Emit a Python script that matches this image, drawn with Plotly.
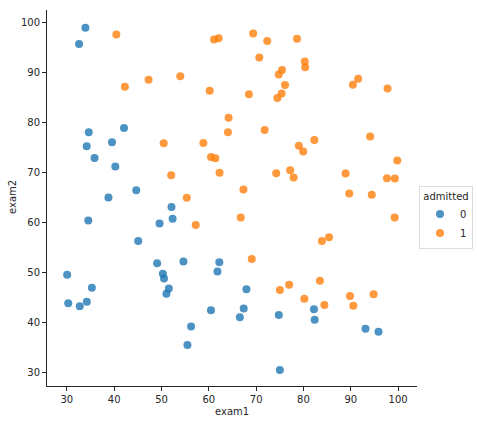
import plotly.graph_objects as go

exam1 = [34.62365962451697,30.28671076822607,35.84740876993872,60.18259938620976,79.03273605381088,45.08327747668339,61.10666453684766,75.02474556738889,76.09878670226257,84.43281996120035,95.86155507093572,75.01365838958247,82.30705337399482,69.36458875970939,39.53833914367223,53.9710521485623,69.07014406283025,67.94685547711617,70.66150955499435,76.97878372747498,67.37202754570876,89.67677575072079,50.534788289883,34.21206097786789,77.9240914545704,62.27101367004632,80.1901807509566,93.114388797442,61.83020602312595,38.78580379679423,61.379289447425,85.40451939411645,52.10797973193984,52.04540476831827,40.23689373545111,54.63510555424817,33.91550010906887,64.17698887494485,74.78925295941542,34.1836400264419,83.90239366249155,51.54772026906181,94.44336776917852,82.36875375713919,51.04775177128865,62.22267576120188,77.19303492601364,97.77159928000232,62.07306379667647,91.56497449807442,79.94481794066932,99.2725269292572,90.54671411399852,34.52451385320009,50.2864961189907,49.58667721632031,97.64563396007767,32.57720016809309,74.24869136721598,71.79646205863379,75.3956114656803,35.28611281526193,56.25381749711624,30.05882244669796,44.66826172480893,66.56089447242954,40.45755098375164,49.07256321908844,80.27957401466998,66.74671856944039,32.72283304060323,64.0393204150601,72.34649422579923,60.45788573918959,58.84095621726802,99.82785779692128,47.26426910848174,50.45815980285988,60.45555629271532,82.22666157785568,88.9138964166533,94.83450672430196,67.31925746917527,57.23870631569862,80.36675600171273,68.46852178591112,42.0754545384731,75.47770200533905,78.63542434898018,52.34800398794107,94.09433112516793,90.44855097096364,55.48216114069585,74.49269241843041,89.84580670720979,83.48916274498238,42.2617008099817,99.31500880510394,55.34001756003703,74.77589300092767]
exam2 = [78.0246928153624,43.89499752400101,72.90219802708364,86.30855209546826,75.3443764369103,56.3163717815305,96.51142588489624,46.55401354116538,87.42056971926803,43.53339331072109,38.22527805795094,30.60326323428011,76.48196330235604,97.71869196188608,76.03681085115882,89.20735013750205,52.74046973016765,46.67857410673128,92.92713789364831,47.57596364975532,42.83843832029179,65.79936592745237,48.85581152764205,44.20952859866288,68.9723599933059,69.95445795447587,44.82162893218353,38.80067033713209,50.25610789244621,64.99568095539578,72.80788731317097,57.05198397627122,63.12762376881715,69.43286012045222,71.16774802184875,52.21388588061123,98.86943574220611,80.90806058670817,41.57341522824434,75.2377203360134,56.30804621605327,46.85629026349976,65.56892160559052,40.61825515970618,45.82270145776001,52.06099194836679,70.45820000180959,86.7278223300282,96.76882412413983,88.69629254546599,74.16311935043758,60.99903099844988,43.39060180650027,60.39634245837173,49.80453881323059,59.80895099453265,68.86157272420604,95.59854761387875,69.82457122657193,78.45356224515052,85.75993667331619,47.02051394723416,39.26147251058019,49.59297386723685,66.45008614558913,41.09209807936973,97.53518548909936,51.88321182073966,92.11606081344084,60.99139402740988,43.30717306430063,78.03168802018232,96.22759296761404,73.09499809758037,75.85844831279042,72.36925193383885,88.47586499559782,75.80985952982456,42.50840943572217,42.71987853716458,69.80378889835472,45.69430680250754,66.58935317747915,59.51428198012956,90.96014789746954,85.59430710452014,78.84478600148043,90.42453899753964,96.64742716885644,60.76950525602592,77.15910509073893,87.50879176484702,35.57070347228866,84.84513684930135,45.35828361091658,48.38028579728175,87.10385094025457,68.77540947206617,64.9319380069486,89.52981289513276]
admitted = [0,0,0,1,1,0,1,1,1,1,0,0,1,1,0,1,1,0,1,1,0,1,0,0,1,1,1,0,0,0,1,1,0,1,0,0,0,1,0,0,1,0,1,0,0,0,1,1,1,1,1,1,1,0,0,0,1,0,1,1,1,0,0,0,0,0,1,0,1,1,0,1,1,1,1,1,1,1,0,0,1,1,1,1,1,1,0,1,1,0,1,1,0,1,1,1,1,1,1,1]
ticks = [30, 40, 50, 60, 70, 80, 90, 100]

colors = {0: "#1f77b4", 1: "#ff7f0e"}
W, H = 477, 424
L, R, T, B = 47, 60, 10, 38

fig = go.Figure()
for cls in [0, 1]:
    xs = [x for x, a in zip(exam1, admitted) if a == cls]
    ys = [y for y, a in zip(exam2, admitted) if a == cls]
    fig.add_trace(go.Scatter(
        x=xs, y=ys, mode="markers", name=str(cls),
        marker=dict(color=colors[cls], size=8, opacity=0.8, line=dict(width=0)),
    ))

axis_common = dict(
    showgrid=False, zeroline=False, showline=True, linecolor="#262626", linewidth=1,
    ticks="outside", ticklen=4, tickcolor="#262626", tickfont=dict(size=10, color="#262626"),
    mirror=False, automargin=False,
)
fig.update_xaxes(range=[25.8, 104.0], tickvals=ticks, **axis_common)
fig.update_yaxes(range=[27.4, 102.4], tickvals=ticks, **axis_common)

fig.add_annotation(text="exam1", xref="paper", yref="paper",
                   x=0.5, y=-(412 - (H - B)) / (H - T - B), xanchor="center", yanchor="middle",
                   showarrow=False, font=dict(size=10, color="#262626"))
fig.add_annotation(text="exam2", xref="paper", yref="paper",
                   x=-(L - 12) / (W - L - R), y=0.5 + (198 - 197) / (H - T - B), xanchor="center", yanchor="middle",
                   textangle=-90, showarrow=False, font=dict(size=10, color="#262626"))

fig.update_layout(
    width=W, height=H,
    margin=dict(l=L, r=R, t=T, b=B, autoexpand=False),
    plot_bgcolor="white", paper_bgcolor="white",
    font=dict(family="DejaVu Sans", size=10, color="#262626"),
    legend=dict(
        title=dict(text="admitted", font=dict(size=10), side="top center"),
        xref="container", yref="container",
        x=419 / W, y=1 - 217 / H, xanchor="left", yanchor="middle",
        bordercolor="#dddddd", borderwidth=1, bgcolor="white",
        font=dict(size=10), tracegroupgap=0, itemwidth=30,
    ),
)

fig.write_html("out.html", config={"displayModeBar": False},
               post_script="document.body.style.margin='0px';")
